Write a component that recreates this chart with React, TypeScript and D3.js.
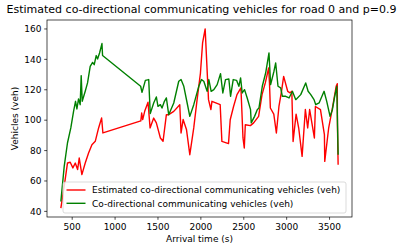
import React from "react";
import * as d3 from "d3";

const title = "Estimated co-directional communicating vehicles for road 0 and p=0.9";
const xLabel = "Arrival time (s)";
const yLabel = "Vehicles (veh)";
const xTicks = [500, 1000, 1500, 2000, 2500, 3000, 3500];
const yTicks = [40, 60, 80, 100, 120, 140, 160];
const seriesNames = [
  "Estimated co-directional communicating vehicles (veh)",
  "Co-directional communicating vehicles (veh)",
];

const estTimes = [368, 418, 445, 477, 508, 536, 563, 582, 613, 652, 691, 730, 769, 808, 843, 858, 1300, 1310, 1322, 1345, 1384, 1408, 1450, 1481, 1528, 1559, 1598, 1625, 1684, 1754, 1769, 1793, 1832, 1871, 1917, 1956, 1995, 2020, 2050, 2089, 2117, 2129, 2225, 2245, 2322, 2342, 2381, 2421, 2467, 2491, 2506, 2518, 2577, 2615, 2673, 2713, 2751, 2790, 2800, 2810, 2850, 2880, 2910, 2940, 2965, 3012, 3040, 3060, 3075, 3110, 3140, 3180, 3218, 3245, 3268, 3323, 3335, 3394, 3440, 3444, 3490, 3530, 3577, 3590, 3592, 3600];
const estValues = [42.2, 60.9, 71.8, 72.3, 68.6, 71.8, 67.5, 75.1, 64.2, 71.8, 78.4, 83.9, 86.1, 94.9, 101.4, 91.6, 99.5, 104.7, 100.4, 105.8, 111.8, 94.9, 101.4, 98.2, 88.3, 86.1, 103.6, 103.6, 105.8, 110.2, 91.6, 100.4, 93.9, 77.3, 94.9, 113.5, 131, 150.8, 160, 113.5, 107, 112.4, 110.2, 86, 84.6, 100.3, 109, 116.8, 121.2, 88.3, 81.7, 97, 96.4, 98.2, 102.5, 116.8, 124.5, 134.3, 124, 108, 104, 91.6, 109, 119, 128.8, 119, 118, 119, 86, 104, 95, 76.2, 107, 94.9, 107, 88.3, 109, 107, 90.5, 72.9, 95, 107, 122.3, 124, 97, 70.7];

const realTimes = [368, 407, 445, 484, 516, 539, 555, 574, 593, 605, 617, 652, 679, 710, 738, 757, 780, 796, 819, 847, 854, 1298, 1314, 1353, 1392, 1410, 1450, 1481, 1500, 1528, 1547, 1575, 1598, 1625, 1684, 1742, 1769, 1801, 1840, 1871, 1917, 1949, 1976, 2007, 2034, 2073, 2093, 2120, 2151, 2190, 2229, 2256, 2287, 2326, 2346, 2377, 2416, 2443, 2463, 2482, 2509, 2540, 2579, 2587, 2626, 2657, 2677, 2716, 2755, 2794, 2813, 2852, 2872, 2899, 2930, 2950, 2989, 3028, 3067, 3106, 3164, 3222, 3250, 3281, 3319, 3339, 3378, 3436, 3467, 3506, 3533, 3560, 3584, 3600];
const realValues = [46.5, 69.6, 85, 94.9, 105.8, 112.4, 107.4, 114, 110.2, 129.3, 112.4, 119, 124.5, 135.4, 138, 136.5, 142.5, 140.3, 144.2, 150.4, 142.5, 122.3, 118.3, 126.2, 126.7, 104.3, 111.3, 115.3, 109.1, 110.2, 108, 112.4, 114.6, 103.6, 111.3, 125.6, 126.7, 122.3, 111.3, 102.5, 110.2, 116.8, 122.3, 126.7, 125.6, 119, 126.7, 119, 120.1, 123.4, 130.6, 117.9, 126.7, 127.1, 115.7, 126.7, 126.2, 122.3, 127.8, 117.9, 120.1, 114.6, 106.9, 98.2, 102.5, 106.9, 108, 122.3, 131, 144.2, 123.4, 132.2, 137.6, 122.3, 121.2, 115.7, 115.7, 114.6, 119, 113.5, 116.8, 124.5, 119, 116.8, 113.5, 110.2, 111.3, 119, 112.4, 102.5, 106.9, 115.7, 122.3, 77.3];

const W = 399;
const H = 251;
const L = 47, R = 352, T = 20, B = 217;
const FONT = "DejaVu Sans";
const FS = 9;

export default function App() {
  const allX = [...estTimes, ...realTimes];
  const allY = [...estValues, ...realValues];
  const [x0, x1] = d3.extent(allX) as [number, number];
  const [y0, y1] = d3.extent(allY) as [number, number];
  const mx = (x1 - x0) * 0.05;
  const my = (y1 - y0) * 0.05;
  const x = d3.scaleLinear().domain([x0 - mx, x1 + mx]).range([L, R]);
  const y = d3.scaleLinear().domain([y0 - my, y1 + my]).range([B, T]);

  const line = d3
    .line<[number, number]>()
    .x((d) => x(d[0]))
    .y((d) => y(d[1]));

  const est = estTimes.map((t, i) => [t, estValues[i]] as [number, number]);
  const real = realTimes.map((t, i) => [t, realValues[i]] as [number, number]);

  const lw = 1.4;
  const legX = 63, legY = 182, legW = 283, legH = 31;

  return (
    <svg
      width={W}
      height={H}
      style={{ position: "absolute", left: 0, top: 0, background: "#fff" }}
      fontFamily={FONT}
    >
      <rect x={0} y={0} width={W} height={H} fill="#fff" />
      <text x={201.5} y={13.3} textAnchor="middle" fontSize={11} fill="#000">
        {title}
      </text>
      <defs>
        <clipPath id="plotclip">
          <rect x={L} y={T} width={R - L} height={B - T} />
        </clipPath>
      </defs>
      <g clipPath="url(#plotclip)">
        <path d={line(est) || ""} fill="none" stroke="#ff0000" strokeWidth={lw} strokeLinejoin="round" />
        <path d={line(real) || ""} fill="none" stroke="#008000" strokeWidth={lw} strokeLinejoin="round" />
      </g>
      <rect x={L} y={T} width={R - L} height={B - T} fill="none" stroke="#000" strokeWidth={0.7} />
      {xTicks.map((t) => (
        <g key={"x" + t}>
          <line x1={x(t)} x2={x(t)} y1={B} y2={B + 2.8} stroke="#000" strokeWidth={0.7} />
          <text x={x(t)} y={229.5} textAnchor="middle" fontSize={FS} fill="#000">
            {t}
          </text>
        </g>
      ))}
      {yTicks.map((t) => (
        <g key={"y" + t}>
          <line x1={L - 2.8} x2={L} y1={y(t)} y2={y(t)} stroke="#000" strokeWidth={0.7} />
          <text x={L - 5.5} y={y(t) + 3.3} textAnchor="end" fontSize={FS} fill="#000">
            {t}
          </text>
        </g>
      ))}
      <text x={(L + R) / 2} y={242} textAnchor="middle" fontSize={FS} fill="#000">
        {xLabel}
      </text>
      <text
        transform={`translate(${18},${(T + B) / 2}) rotate(-90)`}
        textAnchor="middle"
        fontSize={FS}
        fill="#000"
      >
        {yLabel}
      </text>
      <g>
        <rect x={legX} y={legY} width={legW} height={legH} rx={2} fill="#fff" fillOpacity={0.8} stroke="#cccccc" strokeWidth={0.7} />
        {seriesNames.map((n, i) => (
          <g key={n}>
            <line
              x1={legX + 3.5}
              x2={legX + 22.5}
              y1={legY + 8 + i * 13.3}
              y2={legY + 8 + i * 13.3}
              stroke={i === 0 ? "#ff0000" : "#008000"}
              strokeWidth={lw}
            />
            <text x={legX + 29} y={legY + 8 + i * 13.3 + 3.3} fontSize={FS} fill="#000">
              {n}
            </text>
          </g>
        ))}
      </g>
    </svg>
  );
}
